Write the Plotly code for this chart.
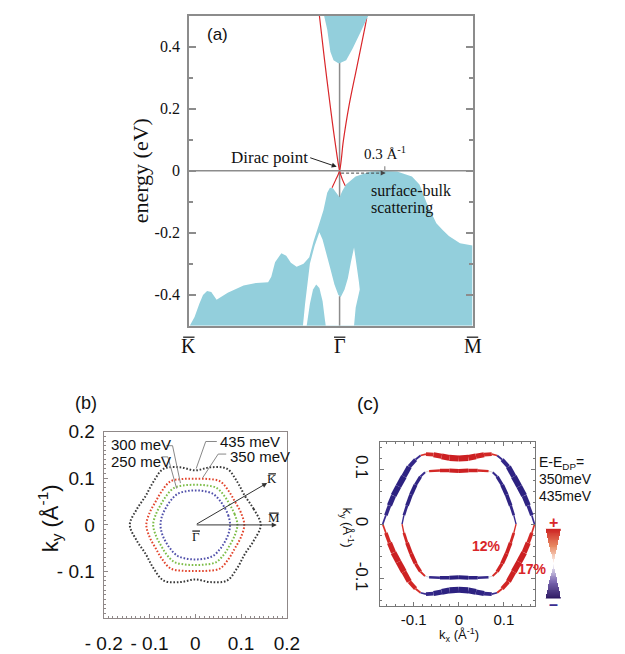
import plotly.graph_objects as go
from plotly.colors import sample_colorscale
import math

W, H = 625, 654
SERIF = "Liberation Serif"
SANS = "Liberation Sans"

# ---------------- Panel (a): band structure ----------------
# x: k along K(-1) - Gamma(0) - M(0.88); y: energy (eV)
cb_k = [-0.103, -0.082, -0.061, -0.040, -0.008, 0.000, 0.044, 0.086, 0.138, 0.191]
cb_E = [0.500, 0.455, 0.383, 0.356, 0.346, 0.346, 0.356, 0.393, 0.445, 0.500]

vb_k = [-0.994, -0.962, -0.931, -0.906, -0.879, -0.851, -0.816, -0.742, -0.637, -0.553,
        -0.474, -0.453, -0.428, -0.386, -0.354, -0.323, -0.285, -0.239, -0.201, -0.172,
        -0.134, -0.107, -0.082, -0.064, -0.044, 0.000, 0.018, 0.043, 0.106, 0.206,
        0.281, 0.381, 0.480, 0.530, 0.580, 0.630, 0.642, 0.684, 0.725, 0.799, 0.882, 0.882]
vb_E = [-0.500, -0.472, -0.430, -0.401, -0.388, -0.391, -0.416, -0.394, -0.370, -0.362,
        -0.360, -0.342, -0.295, -0.266, -0.274, -0.297, -0.310, -0.300, -0.279, -0.227,
        -0.170, -0.128, -0.071, -0.055, -0.057, -0.086, -0.066, -0.045, -0.019, -0.003,
        0.000, -0.003, -0.019, -0.045, -0.107, -0.159, -0.170, -0.191, -0.211, -0.234, -0.241, -0.500]

gap_k = [-0.134, -0.166, -0.197, -0.212, -0.229, -0.243, 0.096, 0.107, 0.134, 0.128, 0.117,
         0.096, 0.075, 0.055, 0.033, 0.008, -0.008, -0.034, -0.061, -0.092, -0.113]
gap_E = [-0.199, -0.243, -0.300, -0.357, -0.430, -0.500, -0.500, -0.441, -0.383, -0.357, -0.316,
         -0.248, -0.295, -0.347, -0.383, -0.407, -0.401, -0.367, -0.316, -0.258, -0.222]

peak_k = [-0.218, -0.197, -0.176, -0.155, -0.134, -0.113, -0.092]
peak_E = [-0.500, -0.430, -0.383, -0.367, -0.378, -0.420, -0.500]

ss1_k = [-0.134, -0.101, -0.061, -0.031, 0.000, 0.019, 0.044]
ss1_E = [0.500, 0.362, 0.205, 0.096, 0.000, -0.029, -0.055]
ss2_k = [0.180, 0.170, 0.113, 0.061, 0.025, 0.000, -0.025, -0.050]
ss2_E = [0.492, 0.466, 0.330, 0.205, 0.096, 0.000, -0.029, -0.055]

a_yticks = [-0.4, -0.2, 0, 0.2, 0.4]
a_yticktext = ["-0.4", "-0.2", "0", "0.2", "0.4"]
a_xlabels = ["K", "\u0393", "M"]
a_xlabel_pos = [-1.0, 0.0, 0.882]

# ---------------- Panel (b): constant energy contours ----------------
theta_b = [0, 15, 30, 45, 60, 75, 90, 105, 120, 135, 150, 165,
           180, 195, 210, 225, 240, 255, 270, 285, 300, 315, 330, 345]
r_435 = [0.143, 0.132, 0.125, 0.130, 0.139, 0.128, 0.117, 0.128, 0.139, 0.130, 0.125, 0.132,
         0.143, 0.132, 0.125, 0.130, 0.138, 0.127, 0.117, 0.127, 0.138, 0.130, 0.125, 0.132]
r_350 = [0.107, 0.103, 0.100, 0.103, 0.108, 0.102, 0.099, 0.102, 0.108, 0.103, 0.100, 0.103,
         0.107, 0.103, 0.100, 0.103, 0.108, 0.102, 0.099, 0.102, 0.108, 0.103, 0.100, 0.103]
r_300 = [0.092, 0.089, 0.087, 0.089, 0.092, 0.088, 0.086, 0.088, 0.092, 0.089, 0.087, 0.089,
         0.092, 0.089, 0.087, 0.089, 0.092, 0.088, 0.086, 0.088, 0.092, 0.089, 0.087, 0.089]
r_250 = [0.076, 0.075, 0.074, 0.075, 0.077, 0.075, 0.074, 0.075, 0.077, 0.075, 0.074, 0.075,
         0.076, 0.075, 0.074, 0.075, 0.077, 0.075, 0.074, 0.075, 0.077, 0.075, 0.074, 0.075]
b_ticks = [-0.2, -0.1, 0, 0.1, 0.2]
b_xticktext = ["- 0.2", "- 0.1", "0", "0.1", "0.2"]
b_yticktext = ["", "- 0.1", "0", "0.1", "0.2"]

# ---------------- Panel (c): spin-polarised contours ----------------
out_x = [0.168, 0.162, 0.154, 0.145, 0.134, 0.122, 0.110, 0.096, 0.085, 0.073, 0.056, 0.038, 0.021, 0.000,
         -0.021, -0.038, -0.056, -0.073, -0.085, -0.096, -0.110, -0.122, -0.134, -0.145, -0.154, -0.162, -0.169,
         -0.162, -0.154, -0.145, -0.134, -0.122, -0.110, -0.096, -0.085, -0.073, -0.056, -0.038, -0.021, 0.000,
         0.021, 0.038, 0.056, 0.073, 0.085, 0.096, 0.110, 0.122, 0.134, 0.145, 0.154, 0.162, 0.168]
out_y = [0.000, 0.016, 0.034, 0.052, 0.069, 0.087, 0.105, 0.118, 0.1255, 0.128, 0.127, 0.124, 0.121, 0.120,
         0.121, 0.124, 0.127, 0.128, 0.1255, 0.118, 0.105, 0.087, 0.069, 0.052, 0.034, 0.016, 0.000,
         -0.016, -0.034, -0.052, -0.069, -0.087, -0.105, -0.118, -0.1255, -0.128, -0.127, -0.124, -0.121, -0.120,
         -0.121, -0.124, -0.127, -0.128, -0.1255, -0.118, -0.105, -0.087, -0.069, -0.052, -0.034, -0.016, 0.000]
out_p = [0, -0.35, -0.7, -0.95, -1, -0.95, -0.75, -0.45, 0, 0.35, 0.7, 0.9, 1, 1,
         1, 0.9, 0.7, 0.35, 0, -0.45, -0.75, -0.95, -1, -0.95, -0.7, -0.35, 0,
         0.35, 0.7, 0.95, 1, 0.95, 0.75, 0.45, 0, -0.35, -0.7, -0.9, -1, -1,
         -1, -0.9, -0.7, -0.35, 0, 0.45, 0.75, 0.95, 1, 0.95, 0.7, 0.35, 0]

in_x = [0.127, 0.122, 0.115, 0.106, 0.096, 0.085, 0.075, 0.066, 0.042, 0.021, 0.000,
        -0.021, -0.042, -0.066, -0.075, -0.085, -0.096, -0.106, -0.115, -0.122, -0.126,
        -0.122, -0.115, -0.106, -0.096, -0.085, -0.075, -0.066, -0.042, -0.021, 0.000,
        0.021, 0.042, 0.066, 0.075, 0.085, 0.096, 0.106, 0.115, 0.122, 0.127]
in_y = [0.000, 0.016, 0.034, 0.054, 0.072, 0.087, 0.095, 0.097, 0.098, 0.098, 0.097,
        0.098, 0.098, 0.097, 0.095, 0.087, 0.072, 0.054, 0.034, 0.016, 0.000,
        -0.016, -0.034, -0.054, -0.072, -0.087, -0.095, -0.097, -0.098, -0.098, -0.097,
        -0.098, -0.098, -0.097, -0.095, -0.087, -0.072, -0.054, -0.034, -0.016, 0.000]
in_p = [0, -0.4, -0.75, -1, -0.9, -0.6, -0.15, 0.2, 0.75, 0.95, 1,
        0.95, 0.75, 0.2, -0.15, -0.6, -0.9, -1, -0.75, -0.4, 0,
        0.4, 0.75, 1, 0.9, 0.6, 0.15, -0.2, -0.75, -0.95, -1,
        -0.95, -0.75, -0.2, 0.15, 0.6, 0.9, 1, 0.75, 0.4, 0]
c_ticks = [-0.1, 0, 0.1]
c_ticktext = ["-0.1", "0", "0.1"]


def px(x):
    return x / W


def py(y):
    return 1 - y / H


fig = go.Figure()
GRAY = "#8c8c8c"
CYAN = "#93cfdc"

# ---- panel (a) traces ----
ax_a = dict(xaxis="x", yaxis="y", hoverinfo="skip", showlegend=False)
fig.add_trace(go.Scatter(x=[0, 0], y=[-0.5, 0.5], mode="lines", line=dict(color=GRAY, width=1.5), **ax_a))
fig.add_trace(go.Scatter(x=ss1_k, y=ss1_E, mode="lines", line=dict(color="#d9262a", width=1.2, shape="spline"), **ax_a))
fig.add_trace(go.Scatter(x=ss2_k, y=ss2_E, mode="lines", line=dict(color="#d9262a", width=1.2, shape="spline"), **ax_a))
fig.add_trace(go.Scatter(x=cb_k, y=cb_E, mode="lines", fill="toself", fillcolor=CYAN, line=dict(width=0, color=CYAN), **ax_a))
fig.add_trace(go.Scatter(x=vb_k, y=vb_E, mode="lines", fill="toself", fillcolor=CYAN, line=dict(width=0, color=CYAN), **ax_a))
fig.add_trace(go.Scatter(x=gap_k, y=gap_E, mode="lines", fill="toself", fillcolor="white", line=dict(width=0, color="white"), **ax_a))
fig.add_trace(go.Scatter(x=peak_k, y=peak_E, mode="lines", fill="toself", fillcolor=CYAN, line=dict(width=0, color=CYAN), **ax_a))
fig.add_trace(go.Scatter(x=[0, 0], y=[-0.5, -0.405], mode="lines", line=dict(color=GRAY, width=1.5), **ax_a))
fig.add_trace(go.Scatter(x=[-1, 0.882], y=[0, 0], mode="lines", line=dict(color=GRAY, width=1.5), **ax_a))

# ---- panel (b) traces ----
def polar_xy(th, r):
    xs = [ri * math.cos(math.radians(t)) for t, ri in zip(th, r)]
    ys = [ri * math.sin(math.radians(t)) for t, ri in zip(th, r)]
    return xs + [xs[0]], ys + [ys[0]]

for r, col in [(r_435, "#3a3a3a"), (r_350, "#e2462e"), (r_300, "#7dbd48"), (r_250, "#5050aa")]:
    xs, ys = polar_xy(theta_b, r)
    fig.add_trace(go.Scatter(x=xs, y=ys, mode="lines", xaxis="x2", yaxis="y2", hoverinfo="skip",
                             line=dict(color=col, width=2, dash="1.6px,1.8px", shape="spline")))

# ---- panel (c) ribbons ----
rib_cs = [[0, "#2c2180"], [0.42, "#3a2d90"], [0.5, "#d3e8e2"], [0.58, "#d8302a"], [1, "#cc1f22"]]

def ribbon(xs, ys, ps, wmax):
    for i in range(len(xs) - 1):
        p = (ps[i] + ps[i + 1]) / 2
        col = sample_colorscale(rib_cs, [(p + 1) / 2])[0]
        fig.add_trace(go.Scatter(x=[xs[i], xs[i + 1]], y=[ys[i], ys[i + 1]], mode="lines",
                                 xaxis="x3", yaxis="y3", hoverinfo="skip",
                                 line=dict(color=col, width=0.7 + wmax * abs(p))))

ribbon(out_x, out_y, out_p, 5.5)
ribbon(in_x, in_y, in_p, 3.5)

# ---- colour key (two triangles) ----
key_cs = [[0, "#2a1660"], [0.25, "#7d6ab2"], [0.5, "#ffffff"], [0.75, "#e88a62"], [1, "#cc2020"]]
nx, ny = 31, 81
kx = [-1 + 2 * i / (nx - 1) for i in range(nx)]
ky = [-1 + 2 * j / (ny - 1) for j in range(ny)]
kz = [[(yv if abs(xv) <= abs(yv) else None) for xv in kx] for yv in ky]
fig.add_trace(go.Heatmap(x=kx, y=ky, z=kz, colorscale=key_cs, zmin=-1, zmax=1, showscale=False,
                         xaxis="x4", yaxis="y4", hoverinfo="skip"))

# ---------------- layout ----------------
fig.update_layout(
    width=W, height=H, margin=dict(l=0, r=0, t=0, b=0),
    paper_bgcolor="white", plot_bgcolor="white", showlegend=False,
    xaxis=dict(domain=[px(179), px(478)], range=[-1, 0.882], showline=True, mirror=True,
               linecolor=GRAY, linewidth=1.5, ticks="", showticklabels=False,
               showgrid=False, zeroline=False, anchor="y"),
    yaxis=dict(domain=[py(325.7), py(5.7)], range=[-0.5, 0.5], showline=True, mirror="ticks",
               linecolor=GRAY, linewidth=1.5, ticks="inside", ticklen=7, tickwidth=1.5, tickcolor=GRAY,
               tickvals=a_yticks, ticktext=a_yticktext, tickfont=dict(family=SERIF, size=16, color="#111"),
               minor=dict(dtick=0.1, ticks="inside", ticklen=4, tickwidth=1.5, tickcolor=GRAY),
               showgrid=False, zeroline=False, anchor="x", ticklabelstandoff=4),
    xaxis2=dict(domain=[px(89.3), px(282.3)], range=[-0.2, 0.2], showline=True, mirror=True,
                linecolor="#8f8888", linewidth=1.2, ticks="inside", ticklen=4, tickcolor="#8f8888",
                tickvals=b_ticks, ticktext=b_xticktext, tickfont=dict(family=SANS, size=19, color="#111"),
                minor=dict(dtick=0.01, ticks="inside", ticklen=2.5, tickcolor="#8f8888"),
                showgrid=False, zeroline=False, anchor="y2", ticklabelstandoff=8),
    yaxis2=dict(domain=[py(627.3), py(435)], range=[-0.2, 0.2], showline=True, mirror=True,
                linecolor="#8f8888", linewidth=1.2, ticks="inside", ticklen=4, tickcolor="#8f8888",
                tickvals=b_ticks, ticktext=b_yticktext, tickfont=dict(family=SANS, size=19, color="#111"),
                minor=dict(dtick=0.01, ticks="inside", ticklen=2.5, tickcolor="#8f8888"),
                showgrid=False, zeroline=False, anchor="x2", ticklabelstandoff=4),
    xaxis3=dict(domain=[px(380), px(544.3)], range=[-0.176, 0.170], showline=True, mirror="ticks",
                linecolor="#777", linewidth=1.2, ticks="inside", ticklen=4, tickcolor="#777",
                tickvals=c_ticks, ticktext=c_ticktext, tickfont=dict(family=SANS, size=15, color="#111"),
                minor=dict(dtick=0.02, ticks="inside", ticklen=2, tickcolor="#777"),
                showgrid=False, zeroline=False, anchor="y3", ticklabelstandoff=0),
    yaxis3=dict(domain=[py(615), py(445.7)], range=[-0.15, 0.15], showline=True, mirror="ticks",
                linecolor="#777", linewidth=1.2, ticks="inside", ticklen=4, tickcolor="#777",
                tickvals=c_ticks, ticktext=c_ticktext, tickangle=90,
                tickfont=dict(family=SANS, size=17, color="#111"),
                minor=dict(dtick=0.02, ticks="inside", ticklen=2, tickcolor="#777"),
                showgrid=False, zeroline=False, anchor="x3", ticklabelstandoff=2),
    xaxis4=dict(domain=[px(555), px(571)], range=[-1, 1], visible=False, anchor="y4"),
    yaxis4=dict(domain=[py(607), py(535)], range=[-1, 1], visible=False, anchor="x4"),
)

ann = []
shapes = []

def A(text, x, y, size, family=SANS, color="#111", xanchor="center", yanchor="middle", textangle=0, xref="paper", yref="paper"):
    ann.append(dict(text=text, x=x, y=y, xref=xref, yref=yref, showarrow=False,
                    font=dict(family=family, size=size, color=color), xanchor=xanchor,
                    yanchor=yanchor, textangle=textangle))

def bar(xc, yc, half):
    # overbar above a letter (pixel coordinates)
    shapes.append(dict(type="line", xref="paper", yref="paper", x0=px(xc - half), x1=px(xc + half),
                       y0=py(yc), y1=py(yc), line=dict(color="#111", width=1.2)))

# panel (a) text
A("(a)", px(209), py(25), 17)
A("energy (eV)", px(128), py(166), 22, family=SERIF, textangle=-90)
for lab, xv, xp in zip(a_xlabels, a_xlabel_pos, [179, 338, 478]):
    A(lab, xv, py(347), 20, family=SERIF, xref="x")
    bar(xp, 337.5, 6)
A("Dirac point", px(264.5), py(152), 17, family=SERIF)
A("0.3 Å<sup>-1</sup>", px(386), py(147), 15, family=SERIF)
A("surface-bulk", px(369), py(186.5), 16, family=SERIF, xanchor="left")
A("scattering", px(369), py(204.5), 16, family=SERIF, xanchor="left")
ann.append(dict(x=-0.019, y=0.0125, xref="x", yref="y", ax=-28, ay=-9.5, showarrow=True,
                arrowhead=2, arrowsize=1, arrowwidth=1, arrowcolor="#222", text=""))
ann.append(dict(x=0.306, y=-0.008, xref="x", yref="y", ax=0.285, ay=-0.008, axref="x", ayref="y",
                showarrow=True, arrowhead=2, arrowsize=1, arrowwidth=1, arrowcolor="#444", text=""))

# panel (b) text
A("(b)", px(71), py(405), 18)
A("k<sub>y</sub> (Å<sup>-1</sup>)", px(33), py(524), 22, textangle=-90)
A("300 meV", px(95), py(448), 15, xanchor="left")
A("250 meV", px(95), py(466), 15, xanchor="left")
A("435 meV", px(210), py(445), 15, xanchor="left")
A("350 meV", px(220), py(461), 15, xanchor="left")
A("K", 0.168, 0.100, 13, family=SERIF, xref="x2", yref="y2")
A("M", 0.172, 0.016, 13, family=SERIF, xref="x2", yref="y2")
A("\u0393", 0.002, -0.024, 13, family=SERIF, xref="x2", yref="y2")
bar(266.8, 478.5, 4)
bar(268.7, 519.0, 5)
bar(186.7, 537.5, 4)
ann.append(dict(x=0.157, y=0.090, xref="x2", yref="y2", ax=0, ay=0, axref="x2", ayref="y2",
                showarrow=True, arrowhead=2, arrowsize=1, arrowwidth=1, arrowcolor="#333", text=""))
ann.append(dict(x=0.178, y=0.0, xref="x2", yref="y2", ax=0, ay=0, axref="x2", ayref="y2",
                showarrow=True, arrowhead=2, arrowsize=1, arrowwidth=1, arrowcolor="#333", text=""))

# panel (c) text
A("(c)", px(368), py(406), 19)
A("k<sub>y</sub> (Å<sup>-1</sup>)", px(346), py(534), 13, textangle=90)
A("k<sub>x</sub> (Å<sup>-1</sup>)", px(464), py(656), 13, yanchor="bottom")
A("E-E<sub>DP</sub>=", px(546), py(467), 14, xanchor="left")
A("350meV", px(546), py(484), 14, xanchor="left")
A("435meV", px(546), py(501), 14, xanchor="left")
A("<b>12%</b>", px(493), py(553), 14, color="#d9262a")
A("<b>17%</b>", px(524), py(577), 14, color="#d9262a", xanchor="left")
A("<b>+</b>", px(563), py(529), 16, color="#d9262a")
A("<b>\u2013</b>", px(563), py(613), 16, color="#3a2d90")

fig.update_layout(annotations=ann)

# dashed arrow shaft and small tick in (a)
shapes.append(dict(type="line", xref="x", yref="y", x0=0.01, x1=0.29, y0=-0.008, y1=-0.008,
                   line=dict(color="#444", width=1, dash="3px,2px")))
shapes.append(dict(type="line", xref="x", yref="y", x0=0.30, x1=0.30, y0=0.0, y1=0.014,
                   line=dict(color=GRAY, width=1.2)))
# leader lines in (b)
for pts in [[(-0.0635, 0.170), (-0.0497, 0.170), (-0.0324, 0.0897)],
            [(-0.0738, 0.146), (-0.060, 0.146), (-0.0407, 0.078)],
            [(0.047, 0.179), (0.0228, 0.179), (0.002, 0.121)],
            [(0.0676, 0.152), (0.050, 0.152), (0.016, 0.101)]]:
    path = "M %f %f L %f %f L %f %f" % (pts[0][0], pts[0][1], pts[1][0], pts[1][1], pts[2][0], pts[2][1])
    shapes.append(dict(type="path", path=path, xref="x2", yref="y2", line=dict(color="#888", width=1)))
fig.update_layout(shapes=shapes)

fig.write_html("out.html", post_script="document.body.style.margin='0px';document.body.style.overflow='hidden';")
